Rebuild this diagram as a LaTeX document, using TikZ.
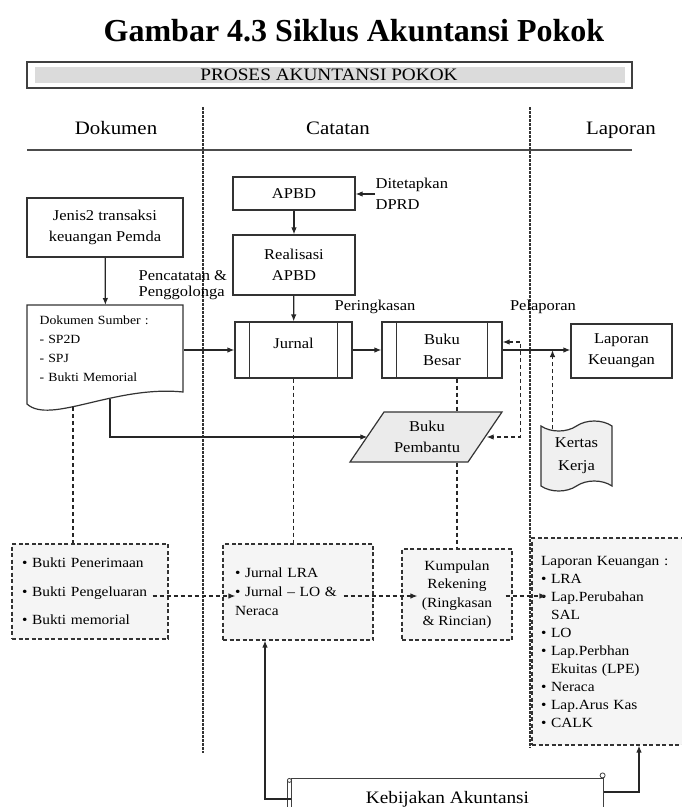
\documentclass[tikz,border=0pt]{standalone}
\usepackage{fontspec}
\setmainfont{Liberation Serif}[FakeStretch=1.1]
\newfontfamily\titlefont{Liberation Serif}
\usetikzlibrary{shapes.symbols,arrows.meta}
\newcommand{\fs}[2]{\fontsize{#1}{#2}\selectfont}

\begin{document}
\begin{tikzpicture}[>={Latex[length=7pt,width=5.5pt]},x=1pt,y=-1pt,line width=1.2pt,
  box/.style={draw=black!80,fill=white,align=center,inner sep=0pt,font=\fs{15}{21}},
  dbox/.style={draw=black!80,line width=1.1pt,dash pattern=on 4pt off 2.5pt,fill=gray!8,inner sep=0pt},
  guide/.style={black!80,line width=1.3pt,dash pattern=on 2.5pt off 1.5pt},
  arr/.style={->,black!85},
  dline/.style={black!85,dash pattern=on 4pt off 3pt},
  lbl/.style={inner sep=0pt,font=\fs{15}{17}},
  kepala/.style={anchor=base,font=\fs{19}{22}}]
\useasboundingbox (0,0) rectangle (682,807);

% judul dan kepala
\node[font=\titlefont\bfseries\fontsize{32}{36}\selectfont] (judul) at (354,31) {Gambar 4.3 Siklus Akuntansi Pokok};
\draw[black!75,line width=1.3pt] (27,62) rectangle (632,88);
\fill[gray!28] (35,67) rectangle (625,83);
\node[font=\fs{17.5}{20}] (proses) at (329,75) {PROSES AKUNTANSI POKOK};
\node[kepala] (dokumen) at (116,134) {Dokumen};
\node[kepala] (catatan) at (338,134) {Catatan};
\node[kepala] (laporan) at (621,134) {Laporan};
\draw[black!70,line width=1.4pt] (27,150) -- (632,150);
\draw[guide] (203,107) -- (203,753);
\draw[guide] (530,107) -- (530,748);

% dokumen
\node[box,minimum width=156,minimum height=59] (jenis) at (105,227.5) {Jenis2 transaksi\\keuangan Pemda};
\draw[black!80] (27,305) -- (183,305) -- (183,392) .. controls (115,385) and (50,425) .. (27,404) -- cycle;
\node[minimum width=156,minimum height=87,inner xsep=12,text width=132,align=left,
  font=\fs{12.5}{19},anchor=north west] (sumber) at (27,305) {Dokumen Sumber :\\- SP2D\\- SPJ\\- Bukti Memorial};
\coordinate (sw1) at (73,407);
\coordinate (sw2) at (110,399);
\node[lbl,align=left,anchor=west,font=\fs{15}{16}] (catat) at (138,285) {Pencatatan \&\\Penggolonga};

% catatan
\node[box,minimum width=122,minimum height=33] (apbd) at (294,193.5) {APBD};
\node[lbl,align=left,anchor=west,font=\fs{15}{21}] (dprd) at (375,194) {Ditetapkan\\DPRD};
\node[box,minimum width=122,minimum height=60] (realisasi) at (294,265) {Realisasi\\APBD};
\node[box,minimum width=117,minimum height=56,text depth=14pt] (jurnal) at (293.5,350) {Jurnal};
\node[box,minimum width=120,minimum height=56] (besar) at (442,350) {Buku\\Besar};
\foreach \n in {jurnal,besar}{
  \draw[black!80] ([xshift=15pt]\n.north west) -- ([xshift=15pt]\n.south west);
  \draw[black!80] ([xshift=-15pt]\n.north east) -- ([xshift=-15pt]\n.south east);
}
\node[lbl] (ringkas) at (375,307) {Peringkasan};
\node[lbl] (lapor) at (543,307) {Pelaporan};
\draw[black!80,fill=gray!16] (384,412) -- (502,412) -- (468,462) -- (350,462) -- cycle;
\node[inner sep=0pt,minimum width=118,minimum height=50,align=center,font=\fs{15}{21}] (pembantu) at (427,437) {Buku\\Pembantu};

% laporan
\node[box,minimum width=101,minimum height=54] (lapbox) at (621.5,351) {Laporan\\Keuangan};
\node[tape,draw=black!80,fill=gray!12,minimum width=71,minimum height=70,inner sep=0pt,
  tape bend height=10pt,align=center,font=\fs{15}{23}] (kertas) at (576.5,456) {Kertas\\Kerja};

% kotak bawah
\coordinate (alur) at (0,596);
\node[dbox,minimum width=156,minimum height=95,inner xsep=10,text width=136,align=left,
  font=\fs{14}{28.5}] (bukti) at (90,591.5)
  {\textbullet\ Bukti Penerimaan\\\textbullet\ Bukti Pengeluaran\\\textbullet\ Bukti memorial};
\node[dbox,minimum width=150,minimum height=96,inner xsep=12,text width=126,align=left,
  font=\fs{14}{19}] (jlra) at (298,592)
  {\textbullet\ Jurnal LRA\\\textbullet\ Jurnal -- LO \&\\Neraca};
\node[dbox,minimum width=110,minimum height=91,align=center,font=\fs{14}{18.5}] (kumpulan) at (457,594.5)
  {Kumpulan\\Rekening\\(Ringkasan\\\& Rincian)};
\node[dbox,minimum width=158,minimum height=207,inner xsep=9,text width=140,align=left,
  font=\fs{14}{18}] (lapkeu) at (611,641.5)
  {Laporan Keuangan :\\\textbullet\ LRA\\\textbullet\ Lap.Perubahan\\\hphantom{\textbullet\ }SAL\\\textbullet\ LO\\
   \textbullet\ Lap.Perbhan\\\hphantom{\textbullet\ }Ekuitas (LPE)\\\textbullet\ Neraca\\\textbullet\ Lap.Arus Kas\\\textbullet\ CALK};

\node[minimum width=311,minimum height=40,inner sep=0pt,font=\fs{17.5}{20}] (kebijakan) at (447.5,799) {Kebijakan Akuntansi};
\draw[black!75] (kebijakan.south west) -- (kebijakan.north west) -- (kebijakan.north east) -- (kebijakan.south east);
\draw[black!75] ([xshift=-4pt]kebijakan.south west) -- ([xshift=-4pt,yshift=-2pt]kebijakan.north west);
\draw[black!75,line width=0.8pt] ([xshift=-2pt,yshift=-2pt]kebijakan.north west) circle (2pt);
\draw[black!75,line width=0.8pt] ([xshift=-1pt,yshift=3pt]kebijakan.north east) circle (2.5pt);

% panah
\draw[arr] (jenis) -- (sumber);
\draw[arr] (dprd.west) -- (dprd.west -| apbd.east);
\draw[arr] (apbd) -- (realisasi);
\draw[arr] (realisasi) -- (jurnal);
\draw[arr] (sumber.east |- jurnal.west) -- (jurnal.west);
\draw[arr] (jurnal) -- (besar);
\draw[arr] (besar.east) -- (besar.east -| lapbox.west);
\draw[arr] (sw2) |- (pembantu.west);
\draw[dline,<->] ([yshift=8pt]besar.east) -- ++(18,0) |- (pembantu.east);
\draw[dline,->] ([xshift=-24pt,yshift=-4pt]kertas.north) -- ([xshift=-24pt]kertas.north |- besar.east);
\draw[dline] (sw1) -- (sw1 |- bukti.north);
\draw[dline] (jurnal.south) -- (jurnal.south |- jlra.north);
\draw[dline] (kumpulan.north |- besar.south) -- (kumpulan.north |- pembantu.north);
\draw[dline] (kumpulan.north |- pembantu.south) -- (kumpulan.north);
\draw[dline,->] ([xshift=-16pt]bukti.east |- alur) -- ([xshift=13pt]jlra.west |- alur);
\draw[dline,->] ([xshift=-30pt]jlra.east |- alur) -- ([xshift=16pt]kumpulan.west |- alur);
\draw[dline,->] ([xshift=-7pt]kumpulan.east |- alur) -- ([xshift=15pt]lapkeu.west |- alur);
\draw[arr] (kebijakan.west) -| ([xshift=-33pt]jlra.south);
\draw[arr] ([yshift=7pt]kebijakan.east) -| ([xshift=28pt]lapkeu.south);
\end{tikzpicture}
\end{document}
